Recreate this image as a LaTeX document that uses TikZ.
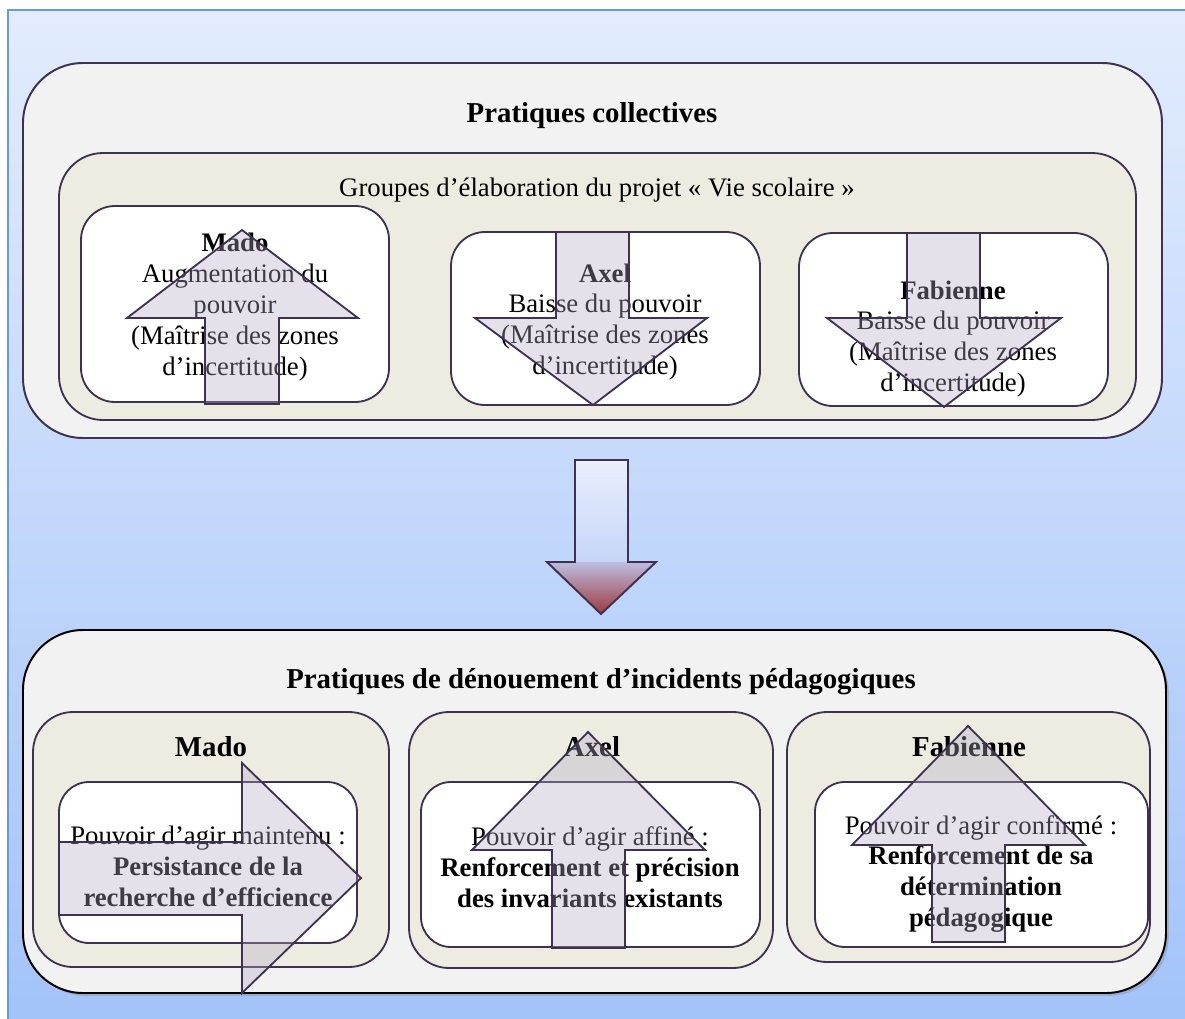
\documentclass[tikz,border=0pt]{standalone}
\usepackage{fontspec}
\setmainfont{Liberation Serif}
\usetikzlibrary{shadows}

\definecolor{fondhaut}{HTML}{E2ECFD}
\definecolor{fondbas}{HTML}{A3C3F9}
\definecolor{cadrebleu}{HTML}{6A9AD6}
\definecolor{trait}{HTML}{3F3151}
\definecolor{gris}{HTML}{F2F2F2}
\definecolor{beige}{HTML}{EEECE1}
\definecolor{lilas}{HTML}{B2AAC4}
\definecolor{flecheh}{HTML}{E9EFFD}
\definecolor{flechem}{HTML}{C6D5F7}
\definecolor{flecheb}{HTML}{BCBDE0}
\definecolor{rouge}{HTML}{9E3A3C}

\tikzset{
  grandbloc/.style={draw=trait,line width=1.4pt,fill=gris,rounded corners=1.5cm},
  bloc/.style={draw=trait,line width=1.3pt,fill=beige,rounded corners=#1},
  blanc/.style={draw=trait,line width=1.3pt,fill=white,rounded corners=#1},
  bigarrow/.style={draw=trait,line width=1.3pt,fill=lilas,fill opacity=0.35,line join=miter},
  txt/.style={align=center,inner sep=0pt,font=\fontsize{19}{22}\selectfont},
  titre/.style={inner sep=0pt,font=\fontsize{20.5}{24}\selectfont\bfseries}
}

\begin{document}
\begin{tikzpicture}[x=0.025cm,y=-0.025cm]
  \useasboundingbox (0,0) rectangle (1185,1019);

  % Fond
  \shade[top color=fondhaut,bottom color=fondbas] (8,10) rectangle (1185,1019);
  \draw[cadrebleu,line width=1pt] (1190,10) -- (8,10) -- (8,1025);

  % Pratiques collectives
  \draw[grandbloc] (23,63) rectangle (1162,438);
  \node[titre] (collect) at (592,116) {Pratiques collectives};
  \draw[bloc=1.1cm] (59,153) rectangle (1136,420);
  \node[txt] (groupes) at (597,190) {Groupes d’élaboration du projet « Vie scolaire »};

  \draw[blanc=0.85cm] (81,206) rectangle (389,402);
  \draw[blanc=0.85cm] (451,232) rectangle (760,405);
  \draw[blanc=0.85cm] (799,233) rectangle (1108,406);

  \node[txt] (madoH) at (235,307) {\textbf{Mado}\\Augmentation du\\pouvoir\\(Maîtrise des zones\\d’incertitude)};
  \node[txt] (axelH) at (605,322) {\textbf{Axel}\\Baisse du pouvoir\\(Maîtrise des zones\\d’incertitude)};
  \node[txt] (fabH) at (953,339) {\textbf{Fabienne}\\Baisse du pouvoir\\(Maîtrise des zones\\d’incertitude)};

  \draw[bigarrow] (242,230) -- (358,318) -- (279,318) -- (279,404) -- (205,404) -- (205,318) -- (127,318) -- cycle;
  \draw[bigarrow] (556,232) -- (629,232) -- (629,318) -- (707,318) -- (593,405) -- (475,318) -- (556,318) -- cycle;
  \draw[bigarrow] (907,233) -- (980,233) -- (980,318) -- (1061,318) -- (944,407) -- (827,318) -- (907,318) -- cycle;

  % Fleche centrale
  \shade[top color=flecheh,bottom color=flechem] (575,460) rectangle (628,562);
  \shade[top color=flecheb,bottom color=rouge] (547,562) -- (656,562) -- (601,614) -- cycle;
  \draw[trait,line width=1.4pt] (575,460) -- (628,460) -- (628,562) -- (656,562) -- (601,614) -- (547,562) -- (575,562) -- cycle;

  % Pratiques de denouement
  \draw[grandbloc,draw=black,drop shadow={opacity=0.35,shadow xshift=2pt,shadow yshift=-2pt}] (23,630) rectangle (1166,993);
  \node[titre] (denouement) at (601,682) {Pratiques de dénouement d’incidents pédagogiques};

  \draw[bloc=1cm] (33,712) rectangle (389,967);
  \draw[bloc=1cm] (409,712) rectangle (773,968);
  \draw[bloc=1cm] (787,712) rectangle (1150,962);
  \node[titre] (madoB) at (211,747) {Mado};
  \node[titre] (axelB) at (592,747) {Axel};
  \node[titre] (fabB) at (969,747) {Fabienne};

  \draw[blanc=0.75cm] (59,782) rectangle (357,943);
  \draw[blanc=0.75cm] (421,782) rectangle (760,947);
  \draw[blanc=0.75cm] (815,782) rectangle (1148,947);

  \node[txt] (madoT) at (208,866) {Pouvoir d’agir maintenu :\\\textbf{Persistance de la}\\\textbf{recherche d’efficience}};
  \node[txt] (axelT) at (590,867) {Pouvoir d’agir affiné :\\\textbf{Renforcement et précision}\\\textbf{des invariants existants}};
  \node[txt] (fabT) at (981,874) {Pouvoir d’agir confirmé :\\\textbf{Renforcement de sa}\\\textbf{détermination}\\\textbf{pédagogique}};

  \draw[bigarrow] (59,842) -- (242,842) -- (242,763) -- (361,878) -- (242,993) -- (242,915) -- (59,915) -- cycle;
  \draw[bigarrow] (588,732) -- (705,850) -- (625,850) -- (625,948) -- (552,948) -- (552,850) -- (472,850) -- cycle;
  \draw[bigarrow] (968,726) -- (1085,845) -- (1005,845) -- (1005,942) -- (932,942) -- (932,845) -- (852,845) -- cycle;
\end{tikzpicture}
\end{document}
